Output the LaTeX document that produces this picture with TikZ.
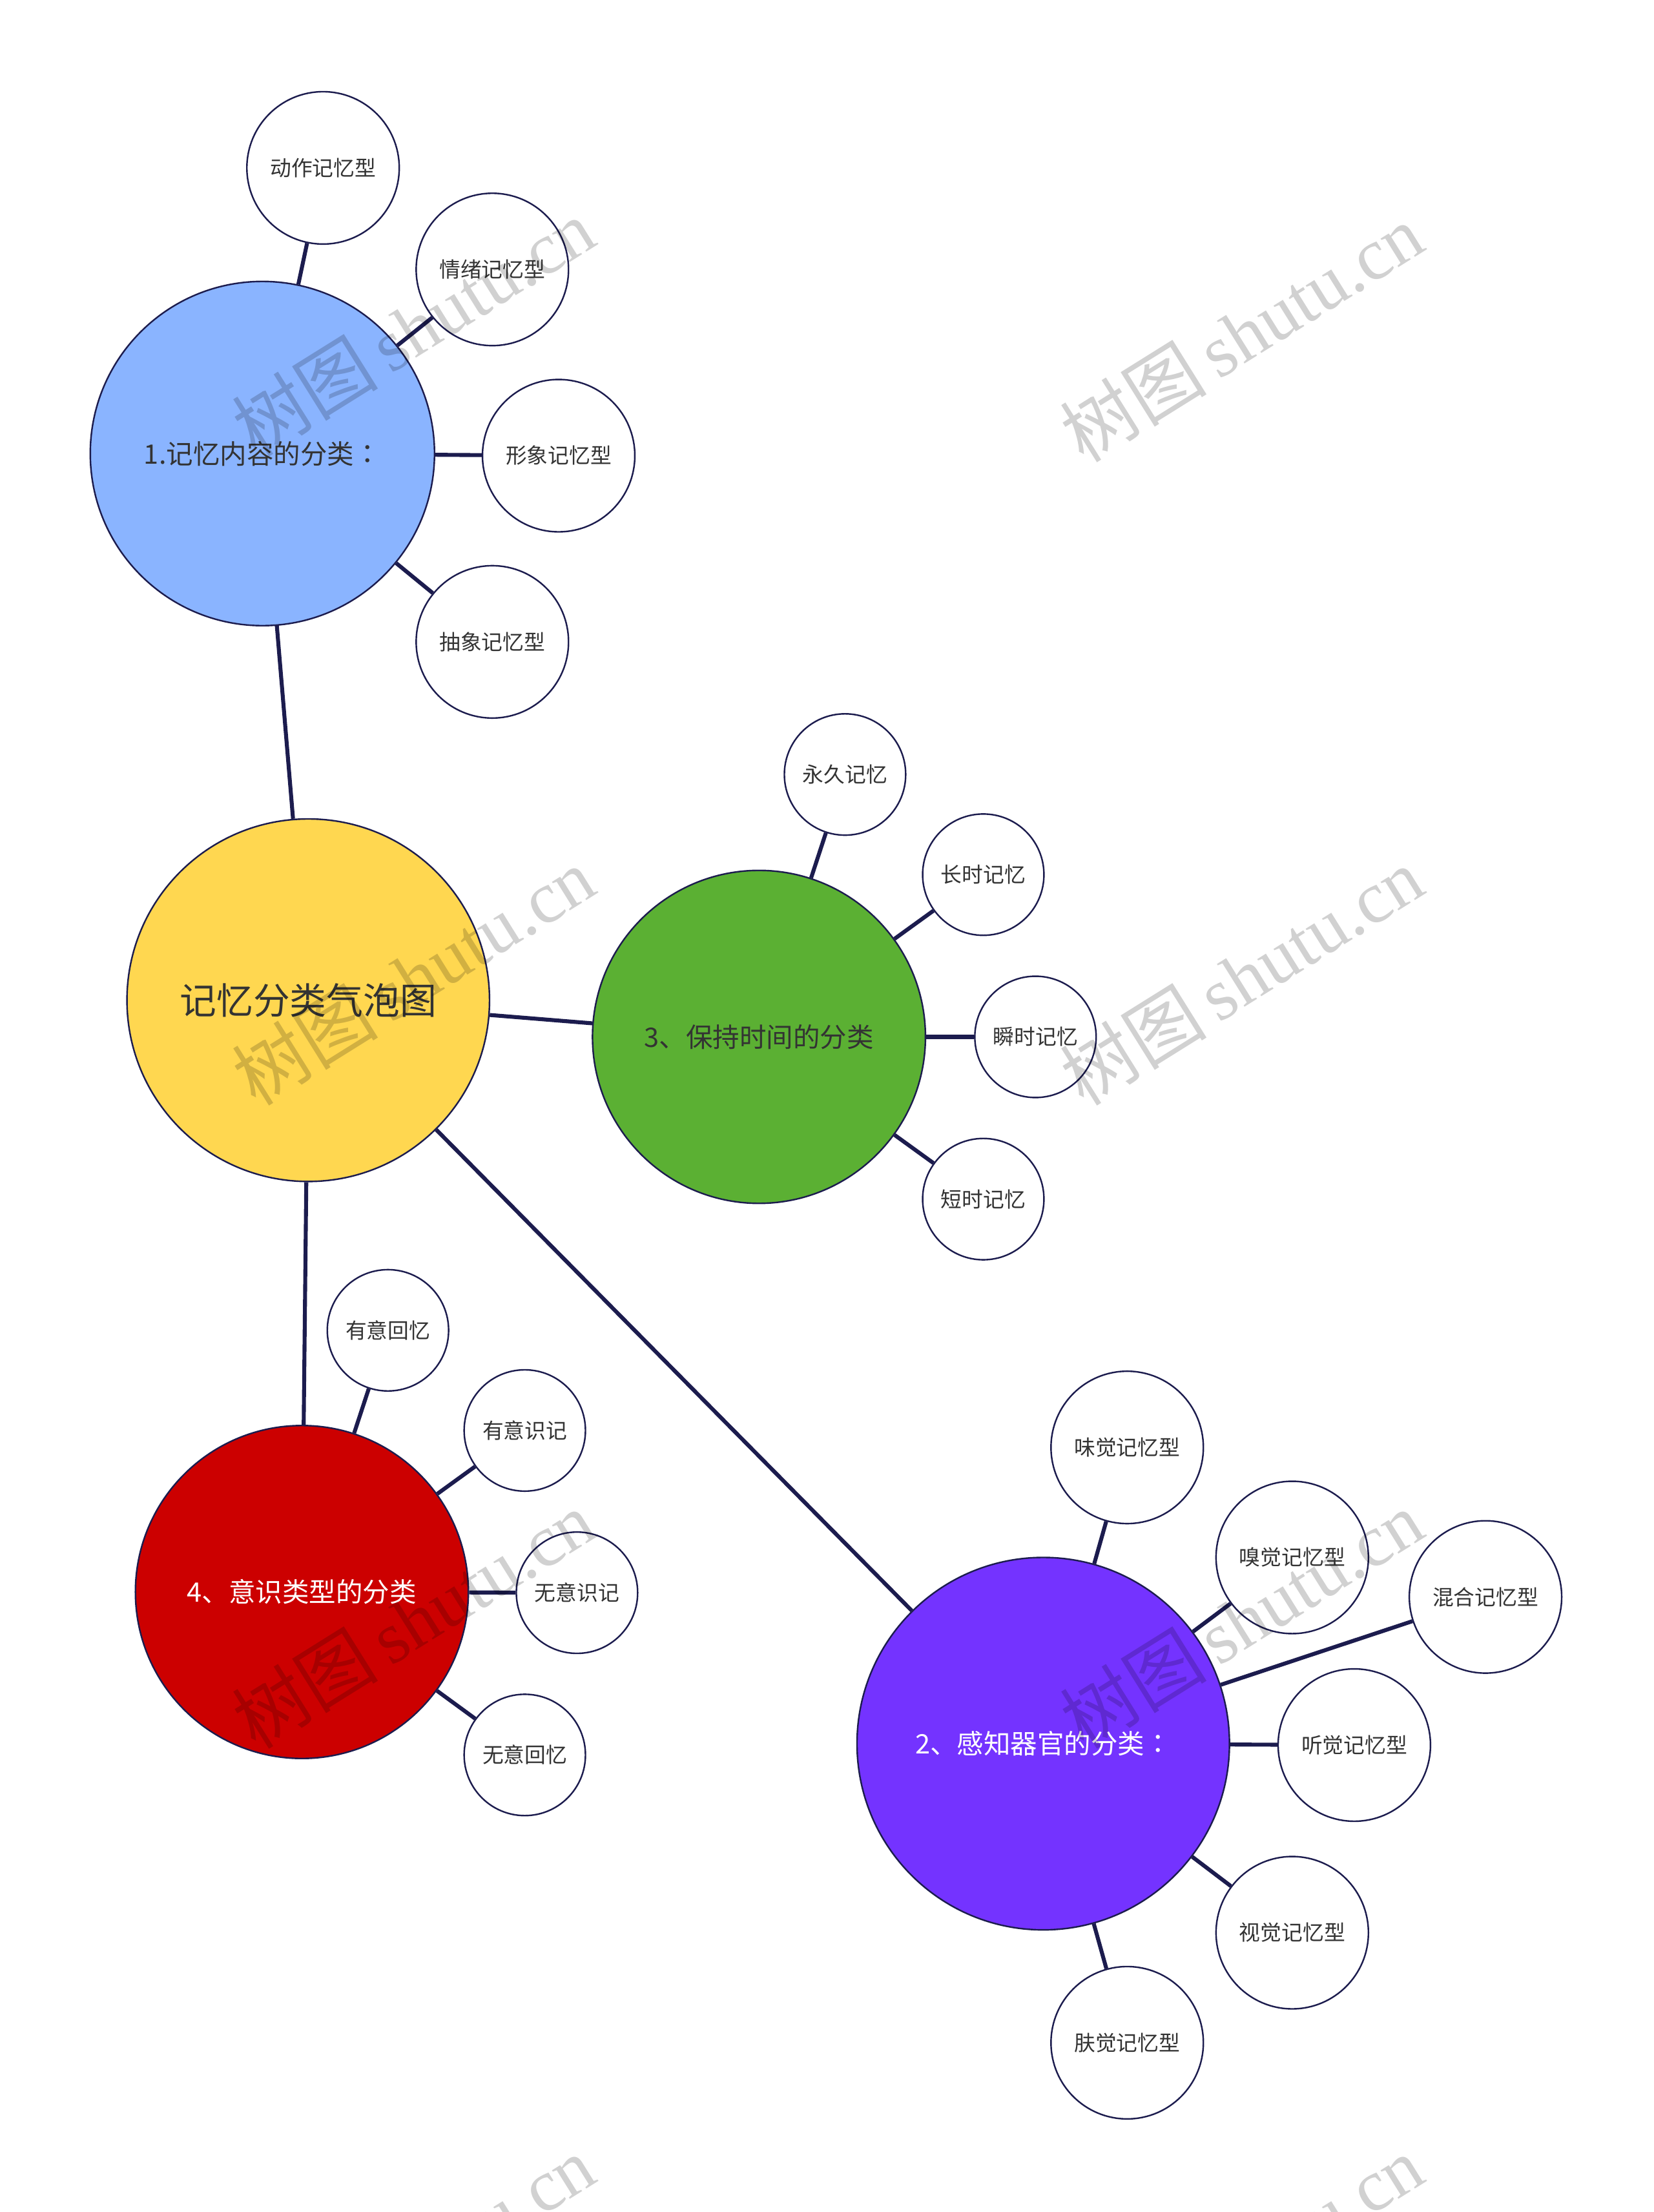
\documentclass[tikz,border=0pt]{standalone}
\usepackage{fontspec}
\setmainfont{Noto Sans CJK SC}
\newfontfamily\cjkfont{Noto Sans CJK SC}
\newfontfamily\colonfont{Noto Sans CJK TC}
\newfontfamily\wmlatin{Liberation Serif}
\newcommand{\fwcolon}{{\colonfont ：}}
\definecolor{linec}{HTML}{1C1C4E}
\definecolor{txt}{HTML}{333333}
\definecolor{cyellow}{HTML}{FFD750}
\definecolor{cblue}{HTML}{8AB4FF}
\definecolor{cgreen}{HTML}{5BB033}
\definecolor{cred}{HTML}{CC0000}
\definecolor{cpurple}{HTML}{7433FF}
\tikzset{
  bubble/.style={circle, draw=linec, line width=1.1pt, inner sep=0pt, align=center},
  major/.style={bubble, font=\fontsize{19}{22}\selectfont},
  leafL/.style={bubble, fill=white, minimum size=108pt, text=txt, font=\fontsize{15}{18}\selectfont},
  leafS/.style={bubble, fill=white, minimum size=86pt, text=txt, font=\fontsize{15}{18}\selectfont},
  conn/.style={draw=linec, line width=2.8pt},
  wm/.style={rotate=32, text=black, opacity=0.18, font=\fontsize{52}{54}\selectfont}
}
\begin{document}
\begin{tikzpicture}[x=1pt,y=-1pt]
\useasboundingbox (0,0) rectangle (1172,1568);
\clip (0,0) rectangle (1172,1568);
\fill[white] (0,0) rectangle (1172,1568);

% main nodes
\node[major, fill=cyellow, minimum size=257pt, text=txt, font=\fontsize{26}{30}\selectfont] (root) at (218.5,709) {记忆分类气泡图};
\node[major, fill=cblue, minimum size=244pt, text=txt] (n1) at (186,321.5) {1.记忆内容的分类\fwcolon};
\node[major, fill=cgreen, minimum size=236pt, text=txt] (n3) at (538,735) {3、保持时间的分类};
\node[major, fill=cred, minimum size=236pt, text=white] (n4) at (214,1128.5) {4、意识类型的分类};
\node[major, fill=cpurple, minimum size=264pt, text=white] (n2) at (739.5,1236) {2、感知器官的分类\fwcolon};

% leaves of n1
\node[leafL] (a1) at (229,119) {动作记忆型};
\node[leafL] (a2) at (349,191) {情绪记忆型};
\node[leafL] (a3) at (396,323) {形象记忆型};
\node[leafL] (a4) at (349,455) {抽象记忆型};
% leaves of n3
\node[leafS] (c1) at (599,549) {永久记忆};
\node[leafS] (c2) at (697,620) {长时记忆};
\node[leafS] (c3) at (734,735) {瞬时记忆};
\node[leafS] (c4) at (697,850) {短时记忆};
% leaves of n4
\node[leafS] (d1) at (275,943) {有意回忆};
\node[leafS] (d2) at (372,1014) {有意识记};
\node[leafS] (d3) at (409,1129) {无意识记};
\node[leafS] (d4) at (372,1244) {无意回忆};
% leaves of n2
\node[leafL] (b1) at (799,1026) {味觉记忆型};
\node[leafL] (b2) at (916,1104) {嗅觉记忆型};
\node[leafL] (b3) at (1053,1132) {混合记忆型};
\node[leafL] (b4) at (960,1237) {听觉记忆型};
\node[leafL] (b5) at (916,1370) {视觉记忆型};
\node[leafL] (b6) at (799,1448) {肤觉记忆型};

% connectors
\foreach \a/\b in {root/n1, root/n3, root/n4, root/n2,
  n1/a1, n1/a2, n1/a3, n1/a4,
  n3/c1, n3/c2, n3/c3, n3/c4,
  n4/d1, n4/d2, n4/d3, n4/d4,
  n2/b1, n2/b2, n2/b3, n2/b4, n2/b5, n2/b6}
  \draw[conn] (\a) -- (\b);

% watermarks
\foreach \p [count=\i] in {(293,232),(880,236),(293,692),(880,692),(293,1148),(880,1148),(293,1605),(880,1605)}
  \node[wm] (wm\i) at \p {\cjkfont 树图\,\wmlatin shutu.cn};
\end{tikzpicture}
\end{document}
